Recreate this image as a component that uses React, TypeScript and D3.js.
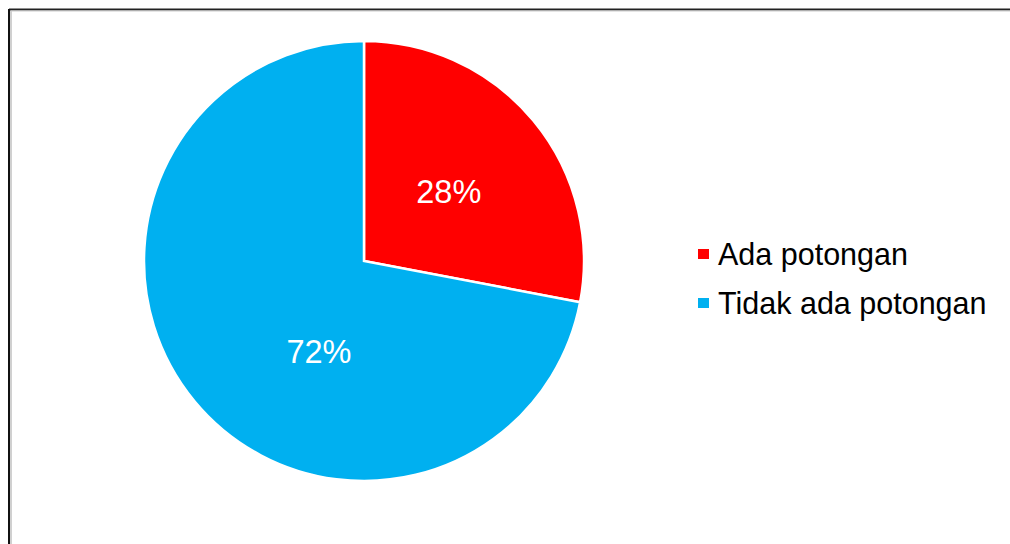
import * as d3 from "d3";

const width = 1010;
const height = 544;

const categories = ["Ada potongan", "Tidak ada potongan"];
const values = [28, 72];
const colors = ["#FF0000", "#00B0F0"];
// label placement inside each slice: [angle in degrees from 12 o'clock, fraction of radius]
const labelPlace: [number, number][] = [
  [50.4, 0.5],
  [206.6, 0.457],
];

const cx = 364;
const cy = 261;
const radius = 220;

const App = () => {
  const pie = d3.pie<number>().sort(null).value((d) => d);
  const arcs = pie(values);
  const arc = d3.arc<d3.PieArcDatum<number>>().innerRadius(0).outerRadius(radius);
  const total = d3.sum(values);

  return (
    <svg
      width={width}
      height={height}
      style={{ position: "absolute", left: 0, top: 0, background: "#fff" }}
      fontFamily="Liberation Sans, Arial, sans-serif"
    >
      <line x1={9} y1={9.5} x2={width} y2={9.5} stroke="#222" strokeWidth={2} />
      <line x1={11} y1={11} x2={width} y2={11} stroke="#ccc" strokeWidth={1} />
      <line x1={9} y1={9} x2={9} y2={height} stroke="#111" strokeWidth={2} />
      <line x1={11} y1={11} x2={11} y2={height} stroke="#d0d0d0" strokeWidth={2} />

      <g transform={`translate(${cx},${cy})`}>
        {arcs.map((a, i) => (
          <path key={i} d={arc(a) as string} fill={colors[i]} stroke="#fff" strokeWidth={2.5} />
        ))}
        {arcs.map((a, i) => {
          const [deg, f] = labelPlace[i];
          const [lx, ly] = d3.pointRadial((deg * Math.PI) / 180, radius * f);
          return (
            <text
              key={i}
              x={lx}
              y={ly}
              dy="0.36em"
              textAnchor="middle"
              fill="#fff"
              fontSize={32.5}
            >
              {Math.round((a.data / total) * 100)}%
            </text>
          );
        })}
      </g>

      <g>
        {categories.map((c, i) => (
          <g key={c} transform={`translate(698,${254 + i * 49})`}>
            <rect x={0} y={-5} width={11} height={10} fill={colors[i]} />
            <text x={20} y={11} fontSize={30.5} fill="#000">
              {c}
            </text>
          </g>
        ))}
      </g>
    </svg>
  );
};

export default App;
